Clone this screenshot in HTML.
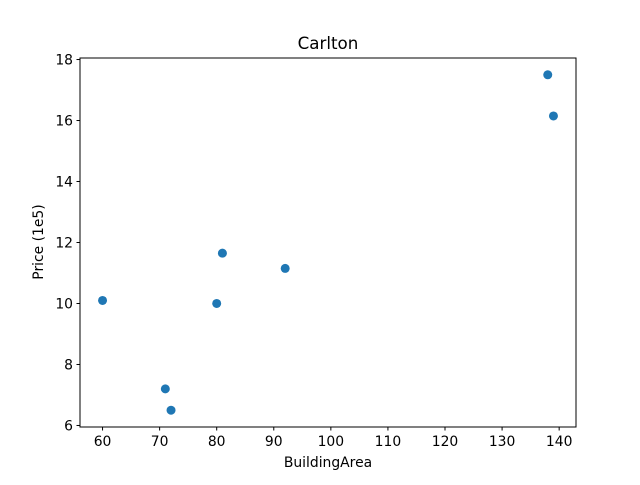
<!DOCTYPE html>
<html><head><meta charset="utf-8"><style>
body{margin:0;background:#fff;}
svg{font-family:"DejaVu Sans","Liberation Sans",sans-serif;}
</style></head><body>
<svg id="chart" width="640" height="480" viewBox="0 0 640 480">
<rect width="640" height="480" fill="#fff"/>
<text x="328" y="49" font-size="16.7" text-anchor="middle">Carlton</text>
<g id="xt"></g><g id="yt"></g><g id="pts"></g>
<rect x="80" y="58" width="496" height="369" fill="none" stroke="#000" stroke-width="1"/>
<text x="328" y="467" font-size="13.9" text-anchor="middle">BuildingArea</text>
<text transform="translate(43,242) rotate(-90)" font-size="13.9" text-anchor="middle">Price (1e5)</text>
</svg>
<script>
const buildingArea=[60,71,72,80,81,92,138,139];
const price=[10.1,7.2,6.5,10.0,11.65,11.15,17.5,16.15];
const xTicks=[60,70,80,90,100,110,120,130,140];
const yTicks=[6,8,10,12,14,16,18];
const L=80,R=576,T=58,B=427,NS="http://www.w3.org/2000/svg";
const xmn=Math.min(...buildingArea),xmx=Math.max(...buildingArea),xm=(xmx-xmn)*0.05;
const ymn=Math.min(...price),ymx=Math.max(...price),ym=(ymx-ymn)*0.05;
const x0=xmn-xm,x1=xmx+xm,y0=ymn-ym,y1=ymx+ym;
const sx=v=>L+(v-x0)/(x1-x0)*(R-L);
const sy=v=>B-(v-y0)/(y1-y0)*(B-T);
function mk(t,a,p){const e=document.createElementNS(NS,t);for(const k in a)e.setAttribute(k,a[k]);p.appendChild(e);return e;}
const xt=document.getElementById('xt'),yt=document.getElementById('yt'),pts=document.getElementById('pts');
xTicks.forEach(v=>{const x=sx(v);
 const l=mk('line',{x1:x,x2:x,y1:B,y2:B+3.5,stroke:'#000'},xt);
 
 
 const t=mk('text',{x:x,y:B+19,'font-size':'13.9','text-anchor':'middle'},xt);t.textContent=v;
 
 });
yTicks.forEach(v=>{const y=sy(v);
 const l=mk('line',{x1:L-3.5,x2:L,y1:y,y2:y,stroke:'#000'},yt);
 
 
 const t=mk('text',{x:L-7,y:y+5,'font-size':'13.9','text-anchor':'end'},yt);t.textContent=v;
 
 });
buildingArea.forEach((v,i)=>{
 const c=mk('circle',{cx:sx(v),cy:sy(price[i]),r:4.5,fill:'#1f77b4'},pts);
 
 });
</script>
</body></html>
